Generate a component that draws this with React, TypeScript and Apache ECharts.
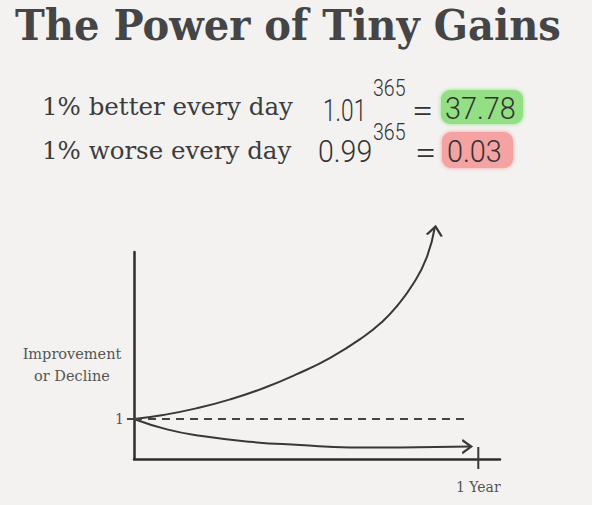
import React, { useEffect, useRef } from "react";
import * as echarts from "echarts";

// Schematic curves (x = day, y = relative level; 1 = start)
const upperDays = [0, 31, 66, 102, 137, 172, 208, 243, 264, 278, 296, 310, 319];
const upperValues = [1.0, 1.1, 1.265, 1.49, 1.77, 2.115, 2.53, 3.05, 3.45, 3.8, 4.38, 5.02, 5.8];
const lowerDays = [0, 35, 70, 123, 176, 229, 282, 357];
const lowerValues = [1.0, 0.74, 0.58, 0.43, 0.35, 0.29, 0.29, 0.31];
const baselineDays = [0, 354];
const baselineValues = [1, 1];
const yearTickDays = [365, 365];
const yearTickValues = [-0.25, 0.3];

const xTickValues = [365];
const xTickLabels = ["1 Year"];
const yTickValues = [1];
const yTickLabels = ["1"];

const titleText = "The Power of Tiny Gains";
const rowLabels = ["1% better every day", "1% worse every day"];
const bases = ["1.01", "0.99"];
const exponents = ["365", "365"];
const results = ["37.78", "0.03"];

const INK = "#383838";

export default function App() {
  const ref = useRef<HTMLDivElement>(null);
  useEffect(() => {
    const chart = echarts.init(ref.current!, null, { renderer: "svg" });

    const withArrow = (days: number[], vals: number[], arrow: any) =>
      days.map((d, i) =>
        i === days.length - 1
          ? {
              value: [d, vals[i]],
              symbol: arrow.symbol,
              symbolSize: arrow.size,
              symbolRotate: arrow.rotate,
              symbolOffset: arrow.offset,
              itemStyle: { color: "none", borderColor: INK, borderWidth: 2 },
            }
          : { value: [d, vals[i]], symbol: "none" }
      );

    const hand = (text: string, x: number, y: number, size: number, sx: number) => ({
      type: "text",
      z: 10,
      x,
      y,
      scaleX: sx,
      style: {
        text,
        x: 0,
        y: 0,
        fill: "#333",
        font: `300 ${size}px Roboto, "Open Sans", sans-serif`,
        textAlign: "left",
        textVerticalAlign: "middle",
      },
    });

    chart.setOption({
      animation: false,
      backgroundColor: "#f3f2f0",
      grid: { left: 134, top: 252, width: 366, height: 207, containLabel: false },
      xAxis: {
        type: "value",
        min: 0,
        max: 388,
        splitLine: { show: false },
        axisLine: { show: true, lineStyle: { color: "#2e2e2e", width: 2.5 } },
        axisTick: { show: false },
        axisLabel: {
          show: true,
          customValues: xTickValues,
          formatter: (v: number) => xTickLabels[xTickValues.indexOf(v)] ?? "",
          margin: 21,
          color: "#555",
          fontFamily: "DejaVu Serif",
          fontSize: 14,
        },
      },
      yAxis: {
        type: "value",
        min: 0,
        max: 5.175,
        splitLine: { show: false },
        axisLine: { show: true, onZero: false, lineStyle: { color: "#2e2e2e", width: 2.5 } },
        axisTick: {
          show: true,
          customValues: yTickValues,
          length: 7,
          lineStyle: { color: "#444", width: 2 },
        },
        axisLabel: {
          show: true,
          customValues: yTickValues,
          formatter: (v: number) => yTickLabels[yTickValues.indexOf(v)] ?? "",
          margin: 10,
          color: "#555",
          fontFamily: "DejaVu Serif",
          fontSize: 14,
        },
      },
      series: [
        {
          type: "line",
          clip: false,
          smooth: 0.5,
          showSymbol: true,
          symbol: "none",
          lineStyle: { color: INK, width: 2 },
          data: withArrow(upperDays, upperValues, {
            symbol: "path://M0,10 L10,0 L20,10",
            size: [15, 9],
            rotate: -8,
            offset: [0, 4],
          }),
        },
        {
          type: "line",
          clip: false,
          smooth: 0.5,
          showSymbol: true,
          symbol: "none",
          lineStyle: { color: INK, width: 2 },
          data: withArrow(lowerDays, lowerValues, {
            symbol: "path://M0,0 L10,10 L0,20",
            size: [9, 13],
            rotate: 0,
            offset: [-4, 0],
          }),
        },
        {
          type: "line",
          clip: false,
          symbol: "none",
          lineStyle: { color: "#444", width: 2, type: [8, 6] },
          data: baselineDays.map((d, i) => [d, baselineValues[i]]),
        },
        {
          type: "line",
          clip: false,
          symbol: "none",
          lineStyle: { color: INK, width: 2 },
          data: yearTickDays.map((d, i) => [d, yearTickValues[i]]),
        },
      ],
      graphic: [
        {
          type: "text",
          x: 15,
          y: 25,
          scaleX: 0.955,
          style: {
            text: titleText,
            x: 0,
            y: 0,
            fill: "#454545",
            font: 'bold 42px "DejaVu Serif", serif',
            textAlign: "left",
            textVerticalAlign: "middle",
          },
        },
        {
          type: "rect",
          z: 1,
          shape: { x: 441, y: 90, width: 82, height: 34, r: 9 },
          style: { fill: "#93df83", shadowBlur: 4, shadowColor: "#93df83" },
        },
        {
          type: "rect",
          z: 1,
          shape: { x: 442, y: 132, width: 71, height: 36, r: 9 },
          style: { fill: "#f4a2a2", shadowBlur: 4, shadowColor: "#f4a2a2" },
        },
        {
          type: "text",
          z: 10,
          style: {
            text: rowLabels[0],
            x: 42,
            y: 106,
            fill: "#3c3c3c",
            font: '24.5px "DejaVu Serif", serif',
            textAlign: "left",
            textVerticalAlign: "middle",
          },
        },
        {
          type: "text",
          z: 10,
          style: {
            text: rowLabels[1],
            x: 42,
            y: 150,
            fill: "#3c3c3c",
            font: '24.5px "DejaVu Serif", serif',
            textAlign: "left",
            textVerticalAlign: "middle",
          },
        },
        hand(bases[0], 323, 110, 32, 0.71),
        hand(exponents[0], 373, 88, 23, 0.85),
        hand("=", 412, 110, 32, 1.2),
        hand(results[0], 445, 108, 32, 0.9),
        hand(bases[1], 318, 151, 32, 0.89),
        hand(exponents[1], 373, 132, 23, 0.85),
        hand("=", 415, 152, 32, 1.2),
        hand(results[1], 447, 151, 32, 0.9),
        {
          type: "text",
          style: {
            text: "Improvement\nor Decline",
            x: 72,
            y: 365,
            fill: "#555",
            font: '14.5px "DejaVu Serif", serif',
            lineHeight: 22,
            textAlign: "center",
            textVerticalAlign: "middle",
          },
        },
      ],
    });
    return () => chart.dispose();
  }, []);
  return (
    <div
      ref={ref}
      style={{ position: "absolute", left: 0, top: 0, width: 592, height: 505, background: "#f3f2f0" }}
    />
  );
}
